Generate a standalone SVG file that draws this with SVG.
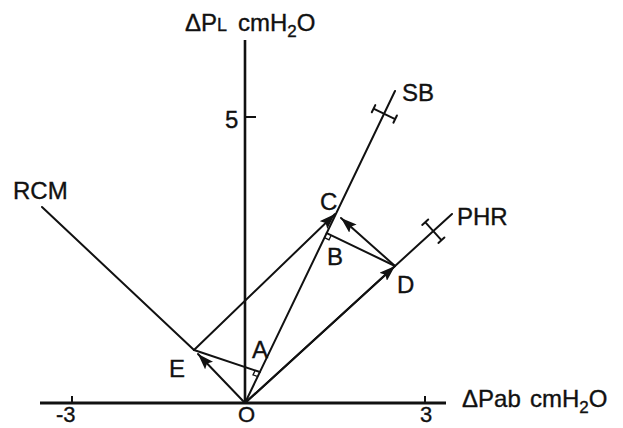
<svg xmlns="http://www.w3.org/2000/svg" width="623" height="428" viewBox="0 0 623 428">
<defs>
<marker id="ah" markerUnits="userSpaceOnUse" markerWidth="16" markerHeight="11" refX="16" refY="5.5" orient="auto">
<path d="M0,0 L16,5.5 L0,11 L3,5.5 z" fill="#111"/>
</marker>
<style>
.ln{stroke:#111;stroke-width:2;fill:none;stroke-linecap:round}
.ax{stroke:#111;fill:none}
.t{font-family:"Liberation Sans",Arial,sans-serif;font-size:24px;fill:#111;stroke:#111;stroke-width:0.35}
.b{font-size:22px}
.sq{stroke:#111;stroke-width:1.3;fill:none}
</style>
</defs>
<rect width="623" height="428" fill="#fff"/>
<g id="axes">
<line class="ax" x1="245" y1="40" x2="245" y2="403" stroke-width="2.6"/>
<line class="ax" x1="40" y1="403" x2="446" y2="403" stroke-width="3"/>
<line class="ax" x1="245" y1="117" x2="256" y2="117" stroke-width="2"/>
<line class="ax" x1="72" y1="396" x2="72" y2="403" stroke-width="2"/>
<line class="ax" x1="425" y1="396" x2="425" y2="403" stroke-width="2"/>
<text class="t" x="185" y="31">ΔP<tspan font-size="18">L</tspan><tspan x="238">cmH</tspan><tspan font-size="17" dy="6">2</tspan><tspan dy="-6">O</tspan></text>
<text class="t" x="462" y="407">ΔPab<tspan x="530">cmH</tspan><tspan font-size="17" dy="6">2</tspan><tspan dy="-6">O</tspan></text>
<text class="t" x="225" y="128">5</text>
<text class="t b" x="56" y="422">-3</text>
<text class="t b" x="238" y="422">O</text>
<text class="t b" x="420" y="422">3</text>
</g>
<g id="SB">
<line class="ln" x1="245" y1="403" x2="395" y2="91"/>
<path class="ln" d="M373.5,108.7 L395.1,119.1 M371.8,112.3 L375.3,105.1 M393.4,122.7 L396.9,115.5"/>
<text class="t" x="402" y="101">SB</text>
</g>
<g id="PHR">
<line class="ln" x1="245" y1="403" x2="452" y2="214"/>
<path class="ln" d="M425.2,222.2 L441.4,240.2 M422.2,224.9 L428.2,219.5 M438.4,242.9 L444.4,237.5"/>
<text class="t" x="457" y="225">PHR</text>
</g>
<g id="RCM">
<line class="ln" x1="42" y1="207" x2="194" y2="350"/>
<text class="t" x="13" y="199">RCM</text>
</g>
<g id="connectors">
<line class="ln" x1="245" y1="403" x2="198" y2="354" marker-end="url(#ah)"/>
<line class="ln" x1="194" y1="350" x2="335" y2="214" marker-end="url(#ah)"/>
<line class="ln" x1="245" y1="403" x2="395" y2="266" marker-end="url(#ah)"/>
<line class="ln" x1="395" y1="266" x2="341" y2="218" marker-end="url(#ah)"/>
<line class="ln" x1="395" y1="266" x2="326.7" y2="233.1"/>
<line class="ln" x1="194" y1="350" x2="259.9" y2="372"/>
<path class="sq" d="M255.2,370.4 L253.0,374.9 L257.7,376.5"/>
<path class="sq" d="M331.2,235.3 L329.0,239.8 L324.5,237.6"/>
</g>
<g id="labels">
<text class="t" x="320" y="210">C</text>
<text class="t" x="327" y="265">B</text>
<text class="t" x="397" y="293">D</text>
<text class="t" x="169" y="377">E</text>
<text class="t" x="252" y="358">A</text>
</g>
</svg>
